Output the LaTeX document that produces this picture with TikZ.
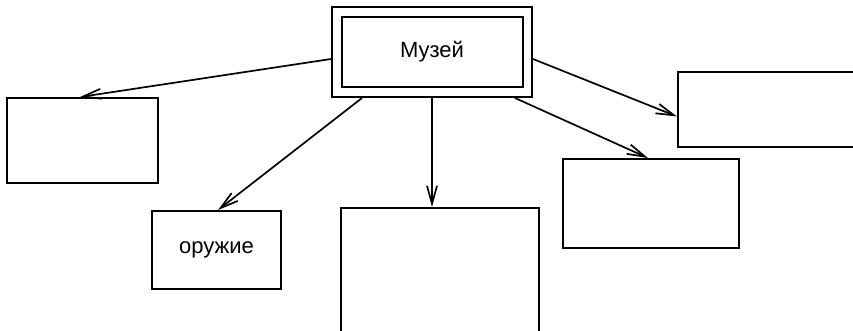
\documentclass[tikz,border=0pt]{standalone}
\usepackage{fontspec}
\setmainfont{Liberation Sans}
\usetikzlibrary{arrows.meta}

\begin{document}
\begin{tikzpicture}[x=1pt, y=-1pt,
                    every node/.style={font=\fontsize{22}{25}\selectfont},
                    box/.style={draw, line width=2pt, inner sep=0pt},
                    link/.style={line width=1.7pt, -{Straight Barb[length=18pt, width=10pt]}}]
        \clip (0,0) rectangle (853,331);

        % central node with a double frame
        \node (muzej) [box, minimum width=200pt, minimum height=90pt] at (432,52) {};
        \node (muzejin) [box, minimum width=181pt, minimum height=70pt] at (432,52) {Музей};

        \node (left) [box, minimum width=151pt, minimum height=85pt] at (82.5,140.5) {};
        \node (oruzhie) [box, minimum width=129pt, minimum height=78pt] at (216.5,250) {оружие};
        \node (mid) [box, minimum width=198pt, minimum height=130pt] at (440,273) {};
        \node (lower) [box, minimum width=176pt, minimum height=89pt] at (651,203.5) {};
        \node (upper) [box, minimum width=200pt, minimum height=75pt] at (778,109.5) {};

        \coordinate (tleft) at ([xshift=-2.5pt]left.north);
        \coordinate (torz) at ([xshift=1.5pt]oruzhie.north);
        \coordinate (tmid) at ([xshift=-8pt]mid.north);
        \coordinate (tlow) at ([xshift=-3pt]lower.north);
        \coordinate (tup) at ([yshift=-7pt]upper.west);

        \draw[link] ([yshift=-7pt]muzej.west) -- (tleft);
        \draw[link] ([xshift=-70pt]muzej.south) -- (torz);
        \draw[link] (muzej.south) -- (tmid);
        \draw[link] ([xshift=83pt]muzej.south) -- (tlow);
        \draw[link] ([yshift=-7pt]muzej.east) -- (tup);
    \end{tikzpicture}
\end{document}
